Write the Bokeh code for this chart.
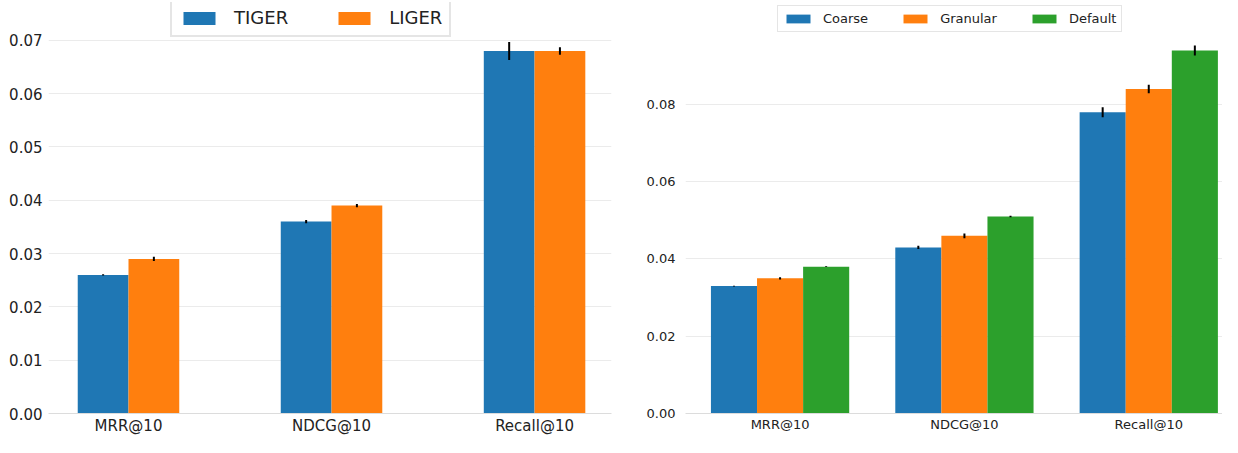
from bokeh.plotting import figure
from bokeh.layouts import row
from bokeh.models import Range1d, FixedTicker, PrintfTickFormatter, Legend, LegendItem
from bokeh.embed import file_html
from bokeh.resources import INLINE

# ---- data ----
metrics = ["MRR@10", "NDCG@10", "Recall@10"]

tiger = [0.026, 0.036, 0.068]
tiger_err = [0.0001, 0.0003, 0.0017]
liger = [0.029, 0.039, 0.068]
liger_err = [0.0004, 0.0003, 0.0007]

coarse = [0.033, 0.043, 0.078]
coarse_err = [0.0001, 0.0004, 0.0013]
granular = [0.035, 0.046, 0.084]
granular_err = [0.0003, 0.0006, 0.0011]
default = [0.038, 0.051, 0.094]
default_err = [0.0001, 0.0002, 0.0013]

left_yticks = [0.0, 0.01, 0.02, 0.03, 0.04, 0.05, 0.06, 0.07]
right_yticks = [0.0, 0.02, 0.04, 0.06, 0.08]

BLUE, ORANGE, GREEN = "#1f77b4", "#ff7f0e", "#2ca02c"
FONT = "DejaVu Sans"


def style(p, yticks, fs, ystand):
    p.outline_line_color = None
    p.xgrid.grid_line_color = None
    p.ygrid.grid_line_color = "#ebebeb"
    p.ygrid.grid_line_width = 1
    p.yaxis.ticker = FixedTicker(ticks=yticks)
    p.yaxis.formatter = PrintfTickFormatter(format="%.2f")
    p.xaxis.ticker = FixedTicker(ticks=list(range(len(metrics))))
    p.xaxis.major_label_overrides = {i: m for i, m in enumerate(metrics)}
    for ax in (p.xaxis, p.yaxis):
        ax.major_tick_line_color = None
        ax.minor_tick_line_color = None
        ax.major_tick_out = 0
        ax.major_tick_in = 0
        ax.major_label_text_font = FONT
        ax.major_label_text_font_size = fs
        ax.major_label_text_color = "#222222"
    p.yaxis.axis_line_color = None
    p.yaxis.major_label_standoff = ystand
    p.xaxis.axis_line_color = "#dcdcdc"
    p.xaxis.axis_line_width = 1
    p.xaxis.major_label_standoff = 3


def bars(p, xs, offset, width, vals, errs, color):
    x = [i + offset for i in xs]
    r = p.vbar(x=x, top=vals, bottom=0, width=width, fill_color=color, line_color=None)
    p.segment(x0=x, y0=[v - e for v, e in zip(vals, errs)],
              x1=x, y1=[v + e for v, e in zip(vals, errs)],
              line_color="black", line_width=2)
    return r


idx = list(range(len(metrics)))

# ---- left panel ----
p1 = figure(width=620, height=437, output_backend="svg", toolbar_location=None,
            x_range=Range1d(-0.394, 2.379), y_range=Range1d(0, 0.0771),
            min_border_left=48, min_border_right=9, min_border_top=2, min_border_bottom=19)
style(p1, left_yticks, "15px", 6)
w1 = 0.25
r_t = bars(p1, idx, -w1 / 2, w1, tiger, tiger_err, BLUE)
r_l = bars(p1, idx, w1 / 2, w1, liger, liger_err, ORANGE)
leg1 = Legend(items=[LegendItem(label="TIGER", renderers=[r_t]),
                     LegendItem(label="LIGER", renderers=[r_l])],
              orientation="horizontal", location=(122, 376),
              glyph_width=40, glyph_height=16, label_standoff=15, spacing=46,
              padding=7, label_text_font=FONT, label_text_font_size="18px",
              label_text_color="#222222",
              border_line_color="#cccccc", border_line_width=2,
              background_fill_color="white", background_fill_alpha=0.9)
p1.add_layout(leg1, "center")

# ---- right panel ----
p2 = figure(width=602, height=437, output_backend="svg", toolbar_location=None,
            x_range=Range1d(-0.513, 2.40), y_range=Range1d(0, 0.1064),
            min_border_left=65, min_border_right=0, min_border_top=2, min_border_bottom=19)
style(p2, right_yticks, "13px", 10)
w2 = 0.25
r_c = bars(p2, idx, -w2, w2, coarse, coarse_err, BLUE)
r_g = bars(p2, idx, 0, w2, granular, granular_err, ORANGE)
r_d = bars(p2, idx, w2, w2, default, default_err, GREEN)
leg2 = Legend(items=[LegendItem(label="Coarse", renderers=[r_c]),
                     LegendItem(label="Granular", renderers=[r_g]),
                     LegendItem(label="Default", renderers=[r_d])],
              orientation="horizontal", location=(92, 381),
              glyph_width=30, glyph_height=11, label_standoff=10, spacing=32,
              padding=5, label_text_font=FONT, label_text_font_size="13px",
              label_text_color="#222222",
              border_line_color="#cccccc", border_line_width=1,
              background_fill_color="white", background_fill_alpha=0.9)
p2.add_layout(leg2, "center")

p = row(p1, p2)
open("out.html", "w").write(file_html(p, INLINE))
